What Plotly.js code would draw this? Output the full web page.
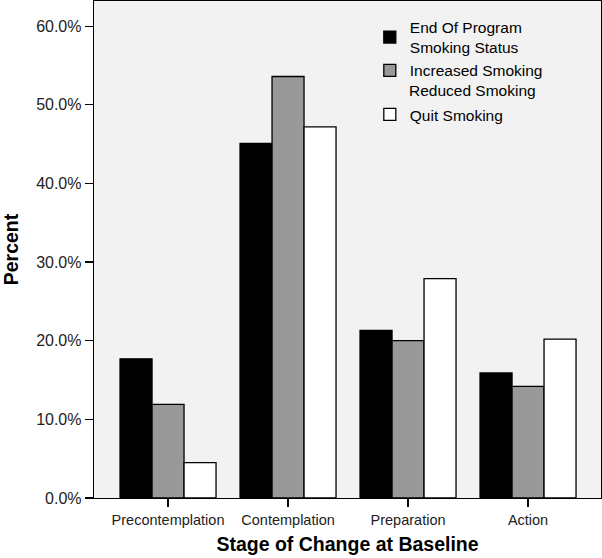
<!DOCTYPE html>
<html>
<head>
<meta charset="utf-8">
<script src="https://cdn.plot.ly/plotly-3.0.1.min.js"></script>
<style>html,body{margin:0;padding:0;background:#fff;}#chart{width:602px;height:558px;}</style>
</head>
<body>
<div id="chart"></div>
<script>
const categories = ["Precontemplation", "Contemplation", "Preparation", "Action"];
const seriesBlack = [17.7, 45.1, 21.3, 15.9];
const seriesGray  = [11.9, 53.6, 20.0, 14.2];
const seriesWhite = [4.5, 47.2, 27.9, 20.2];
const legendNames = ["End Of Program<br>Smoking Status", "Increased Smoking", "Reduced Smoking", "Quit Smoking"];
const yTickVals = [0, 10, 20, 30, 40, 50, 60];

const barLine = {color: "#000", width: 1.3};
const traces = [
  {type: "bar", x: categories, y: seriesBlack, name: legendNames[0], legendgroup: "a",
   marker: {color: "#000000", line: barLine}},
  {type: "bar", x: categories, y: seriesGray, name: legendNames[1], legendgroup: "a",
   marker: {color: "#999999", line: barLine}},
  {type: "bar", x: categories, y: seriesWhite, name: legendNames[3], legendgroup: "b",
   marker: {color: "#ffffff", line: barLine}}
];

const font = "Liberation Sans, Arial, sans-serif";
const layout = {
  width: 602, height: 558,
  margin: {l: 94, r: 1, t: 1, b: 60, pad: 0},
  paper_bgcolor: "#ffffff",
  plot_bgcolor: "#f2f2f2",
  font: {family: font, color: "#000"},
  barmode: "group",
  bargap: 0.2,
  bargroupgap: 0,
  xaxis: {
    type: "category",
    range: [-0.617, 3.608],
    showline: true, mirror: true, linecolor: "#000", linewidth: 1.3,
    ticks: "outside", ticklen: 8, tickcolor: "#000", tickwidth: 1.3,
    showgrid: false, zeroline: false,
    tickfont: {size: 14.5, color: "#222"},
    title: {text: "Stage of Change at Baseline", font: {size: 19.5, family: font, weight: "bold"}, standoff: 10}
  },
  yaxis: {
    range: [0, 63.2],
    tickvals: yTickVals,
    ticktext: yTickVals.map(v => v.toFixed(1) + "%"),
    showline: true, mirror: true, linecolor: "#000", linewidth: 1.3,
    ticks: "outside", ticklen: 8, tickcolor: "#000", tickwidth: 1.3,
    showgrid: false, zeroline: false,
    tickfont: {size: 16, color: "#222"},
    title: {text: "Percent", font: {size: 19.5, family: font, weight: "bold"}, standoff: 14}
  },
  showlegend: true,
  legend: {
    x: 0.544, y: 0.981, xanchor: "left", yanchor: "top",
    bgcolor: "rgba(0,0,0,0)", borderwidth: 0,
    font: {size: 15.5, family: font, color: "#000"},
    tracegroupgap: 21,
    traceorder: "grouped"
  },
  annotations: [{
    text: legendNames[2], xref: "paper", yref: "paper",
    x: (407 - 94) / 507, y: (497 - 90) / 497, xanchor: "left", yanchor: "middle",
    showarrow: false, font: {size: 15.5, family: font, color: "#000"}
  }]
};

Plotly.newPlot("chart", traces, layout, {displayModeBar: false, staticPlot: true});
</script>
</body>
</html>
